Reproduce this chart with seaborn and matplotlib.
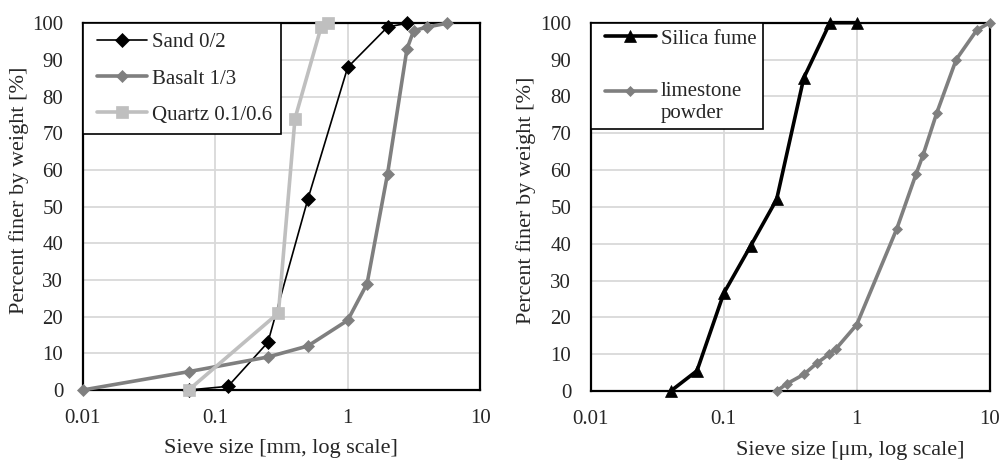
import numpy as np
import pandas as pd
import matplotlib
matplotlib.use("Agg")
import matplotlib.pyplot as plt
from matplotlib.legend_handler import HandlerLine2D
from matplotlib.lines import Line2D
import seaborn as sns

# ---- data: sieve size vs. percent passing ----
sand_x = [0.063, 0.125, 0.25, 0.5, 1.0, 2.0, 2.8]
sand_y = [0, 1, 13, 52, 88, 99, 100]

basalt_x = [0.01, 0.063, 0.25, 0.5, 1.0, 1.4, 2.0, 2.8, 3.15, 4.0, 5.6]
basalt_y = [0, 5, 9, 12, 19, 29, 59, 93, 98, 99, 100]

quartz_x = [0.063, 0.3, 0.4, 0.63, 0.71]
quartz_y = [0, 21, 74, 99, 100]

silica_x = [0.04, 0.063, 0.1, 0.16, 0.25, 0.4, 0.63, 1.0]
silica_y = [0, 5.5, 26.5, 39.5, 52, 85, 100, 100]

lime_x = [0.25, 0.3, 0.4, 0.5, 0.62, 0.7, 1.0, 2.0, 2.8, 3.15, 4.0, 5.6, 8.0, 10.0]
lime_y = [0, 2, 4.5, 7.5, 10, 11.5, 18, 44, 59, 64, 75.5, 90, 98, 100]

x_ticks = [0.01, 0.1, 1, 10]
x_ticklabels = ["0.01", "0.1", "1", "10"]
y_ticks = list(range(0, 101, 10))

sns.set_theme(style="white")
plt.rcParams["font.family"] = ["Liberation Serif", "DejaVu Serif"]

BLACK = "#000000"
GRAY = "#7f7f7f"
LIGHT = "#bfbfbf"
FS = 15
LFS = 16

fig = plt.figure(figsize=(9.99, 4.63), dpi=100)
W, H = 999, 463
ax1 = fig.add_axes([82.7 / W, (H - 390) / H, 397.5 / W, 366.7 / H])
ax2 = fig.add_axes([590.7 / W, (H - 391) / H, 399.0 / W, 368.3 / H])


def draw(ax, xs, ys, label, color, lw, marker, ms):
    df = pd.DataFrame({"size": xs, "passing": ys})
    sns.lineplot(data=df, x="size", y="passing", ax=ax, sort=False,
                 estimator=None, color=color, lw=lw, marker=marker,
                 markersize=ms, markeredgecolor=color,
                 markeredgewidth=0.5, label=label, clip_on=False, zorder=3)


draw(ax1, sand_x, sand_y, "Sand 0/2", BLACK, 1.2, "D", 7.5)
draw(ax1, basalt_x, basalt_y, "Basalt 1/3", GRAY, 2.6, "D", 6.5)
draw(ax1, quartz_x, quartz_y, "Quartz 0.1/0.6", LIGHT, 2.6, "s", 8)

draw(ax2, silica_x, silica_y, "Silica fume", BLACK, 2.6, "^", 8)
draw(ax2, lime_x, lime_y, "limestone\npowder", GRAY, 2.6, "D", 5.5)

for ax in (ax1, ax2):
    ax.set_xscale("log")
    ax.set_xlim(0.01, 10)
    ax.set_ylim(0, 100)
    ax.set_xticks(x_ticks)
    ax.set_xticklabels(x_ticklabels)
    ax.xaxis.set_minor_locator(matplotlib.ticker.NullLocator())
    ax.set_yticks(y_ticks)
    ax.tick_params(axis="y", labelsize=FS, length=0, pad=14)
    ax.tick_params(axis="x", labelsize=FS, length=0, pad=14)
    ax.grid(True, which="major", color="#d9d9d9", lw=1.3, zorder=0)
    ax.set_axisbelow(True)
    for sp in ax.spines.values():
        sp.set_color("black")
        sp.set_linewidth(1.6)
        sp.set_zorder(2.5)
    ax.set_xlabel("")
    ax.set_ylabel("")


# axis titles placed in figure pixels
def ftext(px, py, s, **kw):
    fig.text(px / W, 1 - py / H, s, fontsize=LFS, ha="center", va="center", **kw)


ftext(19, 190, "Percent finer by weight [%]", rotation=90)
ftext(526, 200, "Percent finer by weight [%]", rotation=90)
ftext(281, 448, "Sieve size [mm, log scale]")
ftext(850, 451, "Sieve size [\u03bcm, log scale]")


class FirstLineHandler(HandlerLine2D):
    """Line handle that sits level with the first line of a wrapped label."""

    def create_artists(self, legend, orig_handle, xdescent, ydescent,
                       width, height, fontsize, trans):
        artists = super().create_artists(legend, orig_handle, xdescent,
                                         ydescent, width, height, fontsize,
                                         trans)
        nlines = orig_handle.get_label().count("\n")
        if nlines:
            shift = 0.55 * fontsize * nlines
            for a in artists:
                a.set_ydata([y + shift for y in a.get_ydata()])
        return artists


def legend(ax, xpad, handlelength, labelspacing, borderpad):
    hmap = {Line2D: FirstLineHandler(xpad=xpad)}
    leg = ax.legend(loc="upper left", borderaxespad=0.0, fontsize=FS,
                    frameon=True, fancybox=False, handlelength=handlelength,
                    handletextpad=0.24, labelspacing=labelspacing,
                    borderpad=borderpad, handler_map=hmap)
    fr = leg.get_frame()
    fr.set_edgecolor("black")
    fr.set_linewidth(1.2)
    fr.set_alpha(1)
    leg.set_zorder(5)
    return leg


legend(ax1, 0.22, 2.62, 0.8, 0.45)
legend(ax2, 0.37, 2.82, 1.6, 0.3)

fig.savefig("out.png", dpi=100)
